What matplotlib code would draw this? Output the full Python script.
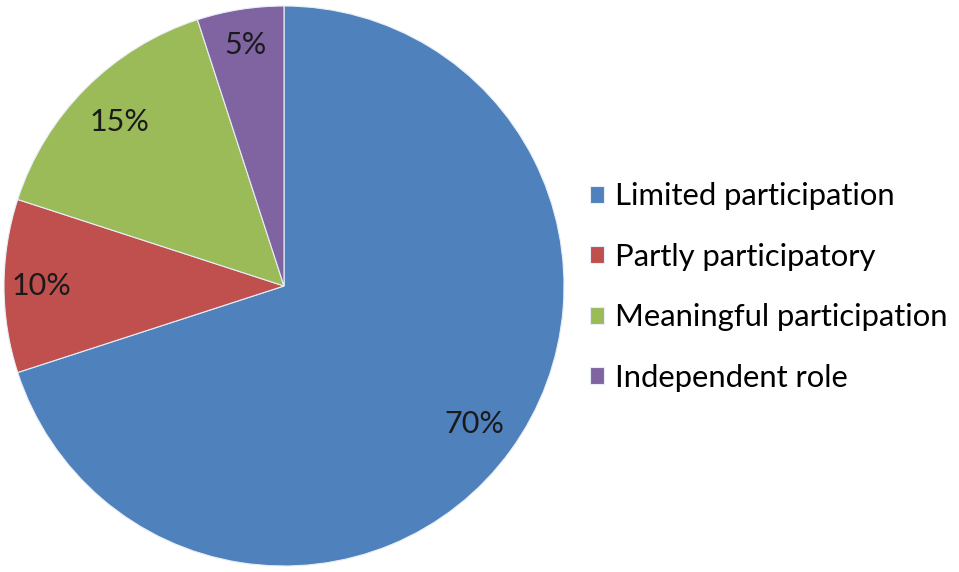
import matplotlib
matplotlib.use("Agg")
import matplotlib.pyplot as plt
import numpy as np

categories = ["Limited participation", "Partly participatory", "Meaningful participation", "Independent role"]
values = [70, 10, 15, 5]
colors = ["#4F81BD", "#C0504D", "#9BBB59", "#8064A2"]

plt.rcParams['font.family'] = ['Lato', 'DejaVu Sans']

fig = plt.figure(figsize=(9.59, 5.72), dpi=100)
ax = fig.add_axes([4/959, 6/572, 560/959, 560/572])
wedges, texts = ax.pie(
    values, colors=colors, startangle=90, counterclock=False,
    wedgeprops=dict(edgecolor="#e8eef7", linewidth=0.8))

label_dist = [0.84, 0.865, 0.83, 0.87]
for w, v, d in zip(wedges, values, label_dist):
    ang = np.deg2rad((w.theta1 + w.theta2) / 2)
    ax.text(d * np.cos(ang), d * np.sin(ang), f"{v}%", ha='center', va='center',
            fontsize=22, color="#1a1a1a")

ax.set_xlim(-1, 1)
ax.set_ylim(-1, 1)
ax.set_aspect('equal')
ax.axis('off')

fig.legend(wedges, categories, loc='center left', bbox_to_anchor=(590/959, 1 - 287/572),
           frameon=False, fontsize=22.3, handlelength=0.46, handleheight=0.46,
           handletextpad=0.36, labelspacing=1.05, borderaxespad=0, borderpad=0)
fig.savefig("out.png", dpi=100)
